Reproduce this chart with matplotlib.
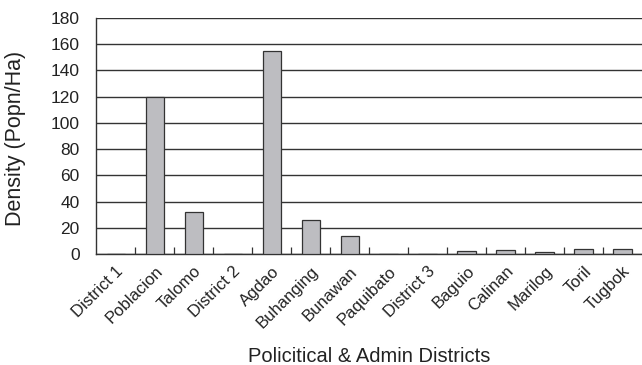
import numpy as np
import matplotlib.pyplot as plt

plt.rcParams['font.family'] = ['Liberation Sans', 'DejaVu Sans']

districts = ['District 1', 'Poblacion', 'Talomo', 'District 2', 'Agdao', 'Buhanging',
             'Bunawan', 'Paquibato', 'District 3', 'Baguio', 'Calinan', 'Marilog',
             'Toril', 'Tugbok']
density = [0, 120, 32, 0, 155, 26, 14, 0, 0, 2, 3, 1.5, 4, 4]
yticks = [0, 20, 40, 60, 80, 100, 120, 140, 160, 180]

fig = plt.figure(figsize=(6.42, 3.65), dpi=100)
ax = fig.add_axes([0.150, 0.304, 0.85, 0.647])

x = np.arange(len(districts))
ax.bar(x, density, width=0.47, color='#bdbdc1', edgecolor='#333333', linewidth=0.9, zorder=3)

ax.set_xlim(-0.5, len(districts) - 0.5)
ax.set_ylim(0, 180)
ax.set_yticks(yticks)
ax.yaxis.grid(True, color='#333333', linewidth=1.0, zorder=0)
ax.tick_params(axis='y', length=0, labelsize=12.5, pad=12, labelcolor='#222222')

# category labels, with small ticks between the categories
ax.set_xticks(x)
ax.set_xticklabels(districts, rotation=45, ha='right', rotation_mode='anchor',
                   fontsize=12, color='#222222')
ax.tick_params(axis='x', which='major', length=0, pad=7)
ax.set_xticks(x[:-1] + 0.5, minor=True)
ax.tick_params(axis='x', which='minor', direction='in', length=5, width=0.9, color='#333333')

for side in ['top', 'right']:
    ax.spines[side].set_visible(False)
for side in ['left', 'bottom']:
    ax.spines[side].set_color('#333333')
    ax.spines[side].set_linewidth(1.0)

ax.set_ylabel('Density (Popn/Ha)', fontsize=15.5, color='#222222')
ax.yaxis.set_label_coords(-0.128, 0.49)
ax.set_xlabel('Policitical & Admin Districts', fontsize=14.5, color='#222222')
ax.xaxis.set_label_coords(0.5, -0.395)

fig.savefig('out.png', dpi=100)
